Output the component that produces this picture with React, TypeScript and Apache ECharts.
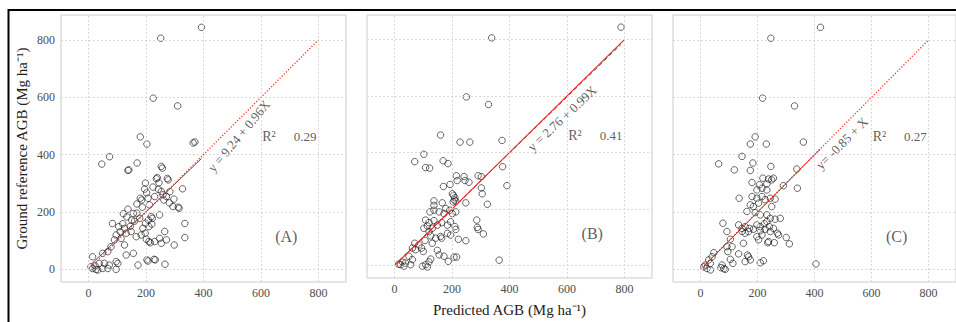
import React, { useEffect, useRef } from "react";
import * as echarts from "echarts";

// ---------- data ----------
const xTicks = [0, 200, 400, 600, 800];
const yTicks = [0, 200, 400, 600, 800];
const panelLabels = ["(A)", "(B)", "(C)"];
const r2Values = ["0.29", "0.41", "0.27"];
const equations = ["y = 9.24 + 0.96X", "y = 2.76 + 0.99X", "y= -0.85 + X"];
const intercepts = [9.24, 2.76, -0.85];
const slopes = [0.96, 0.99, 1];
const fitRanges = [
  [8, 393],
  [14, 788],
  [12, 421],
];
const oneToOne = [
  [0, 0],
  [800, 800],
];

const pointsA = [
  [393, 844], [251, 806], [225, 597], [310, 570],
  [180, 462], [203, 437], [364, 441], [370, 444],
  [46, 367], [73, 393], [169, 371], [137, 345], [140, 347],
  [253, 359], [257, 353], [236, 316], [239, 320], [274, 317], [277, 312],
  [198, 301], [224, 287], [327, 281], [195, 280], [180, 248], [207, 248], [253, 272], [271, 254],
  [297, 245], [312, 217], [315, 213], [294, 219], [230, 254], [259, 260],
  [187, 217], [212, 225], [137, 210], [121, 194], [168, 196], [218, 184], [222, 178], [247, 190],
  [83, 160], [105, 149], [119, 159], [125, 143], [335, 160], [160, 168], [178, 178], [198, 161],
  [210, 149], [189, 143], [131, 126], [148, 132], [166, 114], [183, 120], [201, 105], [210, 97],
  [215, 93], [230, 97], [247, 108], [265, 132], [271, 103], [253, 91], [335, 111], [298, 85],
  [96, 120], [113, 108], [90, 103], [125, 85], [78, 79], [67, 62], [49, 56], [131, 50], [156, 56],
  [172, 15], [203, 33], [207, 29], [228, 35], [232, 33], [266, 18],
  [96, 27], [102, 21], [72, 15], [37, 21], [49, 3], [96, 0], [67, 3], [8, 9], [14, 3], [23, 12],
  [26, 0], [32, -2], [55, 21], [14, 44],
  [202, 267], [168, 228], [185, 242], [245, 302], [243, 279], [283, 271], [262, 242], [281, 232],
  [156, 195], [133, 183], [150, 172], [145, 150], [208, 172], [220, 158], [110, 131], [197, 126],
];

const pointsB = [
  [788, 844], [338, 806], [250, 597], [327, 570],
  [160, 462], [228, 437], [262, 437], [374, 443],
  [70, 368], [102, 394], [108, 347], [122, 345], [169, 371], [186, 361], [376, 350], [391, 283],
  [215, 318], [242, 315], [218, 301], [245, 301], [259, 295], [291, 318], [302, 315], [302, 275],
  [305, 254], [323, 217],
  [170, 280], [193, 287], [201, 254], [205, 248], [210, 240], [208, 232], [204, 225], [213, 228],
  [248, 222], [166, 222], [137, 229], [137, 213],
  [123, 190], [137, 196], [155, 190], [172, 184], [178, 202], [192, 196], [201, 184], [213, 190],
  [108, 161], [120, 152], [137, 159], [114, 140], [131, 132], [149, 143], [164, 152], [184, 143],
  [195, 155], [210, 138], [213, 128],
  [102, 132], [120, 120], [126, 105], [143, 97], [160, 103], [164, 97], [184, 114], [195, 108],
  [222, 93], [248, 88],
  [286, 161], [288, 135], [291, 128], [309, 112],
  [131, 79], [106, 89], [85, 73], [70, 79], [62, 62], [73, 56], [94, 62], [100, 50],
  [149, 54], [155, 38], [172, 33], [187, 15], [207, 30], [216, 30],
  [126, 23], [120, 13], [108, 3], [97, -2], [114, -5],
  [50, 33], [62, 21], [38, 9], [56, 3], [21, 3], [33, -2], [364, 19], [14, 5], [28, 12],
];

const pointsC = [
  [421, 844], [247, 806], [218, 597], [330, 570],
  [192, 462], [175, 437], [231, 437], [361, 444],
  [64, 368], [146, 394], [119, 347], [175, 345], [184, 371], [247, 359], [338, 350], [340, 283],
  [291, 292],
  [219, 318], [239, 315], [250, 312], [256, 318], [207, 295], [233, 298], [181, 303],
  [198, 277], [216, 283], [233, 277], [181, 254], [198, 248], [216, 254], [227, 243], [245, 248],
  [262, 245], [136, 248],
  [175, 225], [186, 219], [204, 231], [250, 219], [163, 202], [192, 198], [210, 190], [233, 190],
  [245, 178], [262, 175], [280, 178],
  [79, 161], [93, 132], [134, 155], [146, 143], [157, 149], [172, 143], [146, 132], [157, 126],
  [169, 132], [186, 140],
  [198, 155], [210, 149], [224, 159], [233, 167], [210, 135], [227, 140], [242, 149], [198, 114],
  [204, 103], [216, 120],
  [245, 132], [256, 143], [270, 126], [274, 120], [301, 111], [312, 89], [239, 97], [236, 93],
  [259, 93],
  [105, 105], [93, 79], [96, 62], [111, 79], [151, 91], [134, 54], [165, 50], [169, 44], [175, 33],
  [157, 27], [210, 23], [221, 30],
  [105, 35], [114, 21], [76, 15], [82, 3], [72, 6], [87, 0], [47, 58], [41, 44], [29, 33], [35, 21],
  [17, 15], [12, 9], [23, 3], [35, -2], [405, 19],
];

const panelPoints = [pointsA, pointsB, pointsC];

// ---------- layout / style ----------
const FONT = "Liberation Serif";
const gridLefts = [61, 367, 673];
const gridWidth = 285;
const gridTop = 15;
const gridHeight = 267;
const xMin = -96;
const xMax = 896;
const yMin = -44;
const yMax = 887;

const eqPos = [
  [523, 465],
  [583, 521],
  [496, 440],
];
const eqRotate = [50, 43, 45];
const r2Pos = [628, 462];
const r2ValPos = [754, 462];
const tagPos = [688, 113];

const oneToOneStyle = [
  { color: "#ff2a2a", width: 1.3, type: [1.2, 1.8] },
  { color: "#ff1a1a", width: 1.1, type: "solid" },
  { color: "#ff2a2a", width: 1.3, type: [1.2, 1.8] },
];
const fitStyle = [
  { color: "#555555", width: 1, type: "solid" },
  { color: "#555555", width: 1, type: [4, 3] },
  { color: "#7a3a3a", width: 1, type: "solid" },
];

function textSeries(i: number, pos: number[], text: string, size: number, rotate = 0, color = "#333333") {
  return {
    type: "scatter",
    xAxisIndex: i,
    yAxisIndex: i,
    data: [pos],
    symbolSize: 0.1,
    itemStyle: { color: "transparent" },
    silent: true,
    z: 5,
    label: {
      show: true,
      position: "inside",
      formatter: text,
      fontFamily: FONT,
      fontSize: size,
      color,
      rotate,
    },
  };
}

export default function App() {
  const ref = useRef<HTMLDivElement>(null);

  useEffect(() => {
    if (!ref.current) return;
    const chart = echarts.init(ref.current, undefined, { renderer: "svg" });

    const grids = gridLefts.map((left) => ({
      left,
      top: gridTop,
      width: gridWidth,
      height: gridHeight,
      show: true,
      borderColor: "#cccccc",
      borderWidth: 1,
      backgroundColor: "transparent",
      containLabel: false,
    }));

    const xAxes = gridLefts.map((_, i) => ({
      type: "value",
      gridIndex: i,
      min: xMin,
      max: xMax,
      axisLine: { show: false },
      axisTick: { show: false },
      splitLine: { show: false },
      axisLabel: {
        customValues: xTicks,
        fontFamily: FONT,
        fontSize: 12,
        color: "#4d4d4d",
        margin: 5,
      },
      name: i === 1 ? "Predicted AGB (Mg ha\u207B\u00B9)" : "",
      nameLocation: "middle",
      nameGap: 24,
      nameTextStyle: { fontFamily: FONT, fontSize: 15, color: "#222222" },
    }));

    const yAxes = gridLefts.map((_, i) => ({
      type: "value",
      gridIndex: i,
      min: yMin,
      max: yMax,
      axisLine: { show: false },
      axisTick: { show: false },
      splitLine: { show: false },
      axisLabel: {
        show: i === 0,
        customValues: yTicks,
        fontFamily: FONT,
        fontSize: 12,
        color: "#4d4d4d",
        margin: 6,
      },
      name: i === 0 ? "Ground reference AGB (Mg ha\u207B\u00B9)" : "",
      nameLocation: "middle",
      nameGap: 32,
      nameTextStyle: { fontFamily: FONT, fontSize: 15, color: "#222222" },
    }));

    const series: any[] = [];
    gridLefts.forEach((_, i) => {
      // grid lines
      series.push({
        type: "line",
        xAxisIndex: i,
        yAxisIndex: i,
        data: [],
        silent: true,
        z: 0,
        markLine: {
          silent: true,
          symbol: ["none", "none"],
          label: { show: false },
          animation: false,
          lineStyle: { color: "#cfcfcf", width: 0.8, type: [2, 2] },
          data: [
            ...xTicks.map((v) => ({ xAxis: v })),
            ...yTicks.map((v) => ({ yAxis: v })),
          ],
        },
      });
      // points
      series.push({
        type: "scatter",
        xAxisIndex: i,
        yAxisIndex: i,
        data: panelPoints[i],
        symbol: "circle",
        symbolSize: 6.5,
        silent: true,
        z: 2,
        itemStyle: { color: "transparent", borderColor: "#111111", borderWidth: 0.8 },
      });
      // 1:1 line
      series.push({
        type: "line",
        xAxisIndex: i,
        yAxisIndex: i,
        data: oneToOne,
        symbol: "none",
        silent: true,
        z: 4,
        lineStyle: oneToOneStyle[i],
      });
      // fitted line
      const [x0, x1] = fitRanges[i];
      series.push({
        type: "line",
        xAxisIndex: i,
        yAxisIndex: i,
        data: [
          [x0, intercepts[i] + slopes[i] * x0],
          [x1, intercepts[i] + slopes[i] * x1],
        ],
        symbol: "none",
        silent: true,
        z: 3,
        lineStyle: fitStyle[i],
      });
      series.push(textSeries(i, eqPos[i], equations[i], 13, eqRotate[i], "#333333"));
      series.push(textSeries(i, r2Pos, "R\u00B2", 14));
      series.push(textSeries(i, r2ValPos, r2Values[i], 13));
      series.push(textSeries(i, tagPos, panelLabels[i], 16));
    });

    chart.setOption({
      animation: false,
      backgroundColor: "#ffffff",
      textStyle: { fontFamily: FONT },
      grid: grids,
      xAxis: xAxes,
      yAxis: yAxes,
      series,
      graphic: [
        {
          type: "rect",
          shape: { x: 8.5, y: 10, width: 960, height: 340 },
          style: { fill: "none", stroke: "#000000", lineWidth: 2 },
          silent: true,
          z: 100,
        },
      ],
    });

    return () => chart.dispose();
  }, []);

  return (
    <div
      ref={ref}
      style={{ position: "absolute", left: 0, top: 0, width: 956, height: 322 }}
    />
  );
}
